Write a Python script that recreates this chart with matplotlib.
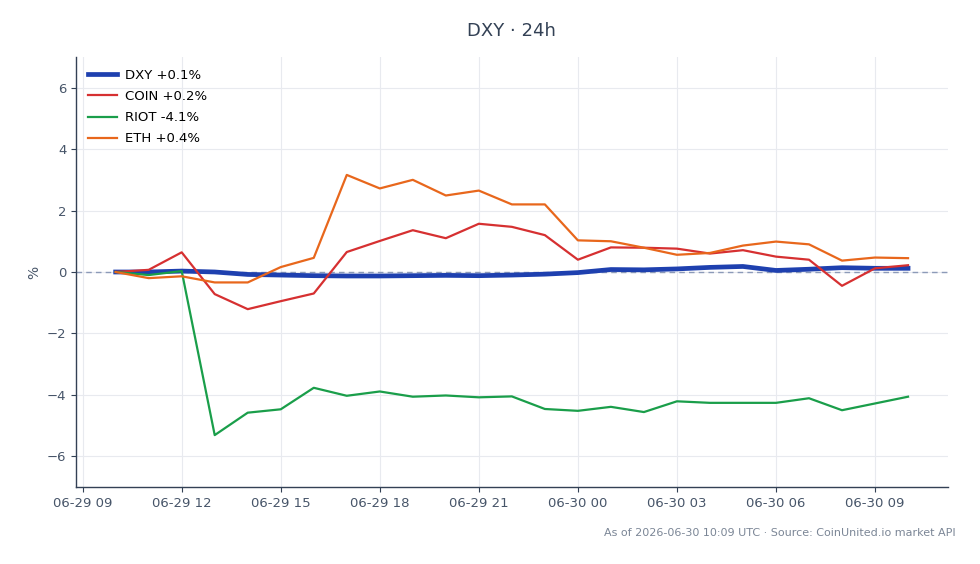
import matplotlib
matplotlib.use("Agg")
import matplotlib.pyplot as plt
import matplotlib.dates as mdates
import pandas as pd

times = pd.date_range("2026-06-29 10:00", periods=25, freq="h")

dxy = [0.0, 0.0, 0.03, 0.0, -0.08, -0.1, -0.12, -0.13, -0.13, -0.12, -0.11, -0.12,
       -0.1, -0.07, -0.02, 0.08, 0.07, 0.1, 0.15, 0.18, 0.05, 0.09, 0.14, 0.12, 0.12]
coin = [0.0, 0.07, 0.64, -0.72, -1.21, -0.95, -0.7, 0.65, 1.01, 1.36, 1.1, 1.57,
        1.47, 1.2, 0.4, 0.8, 0.79, 0.76, 0.6, 0.71, 0.5, 0.4, -0.45, 0.12, 0.22]
riot = [0.0, -0.1, 0.03, -5.31, -4.58, -4.47, -3.77, -4.03, -3.89, -4.06, -4.02, -4.08,
        -4.05, -4.46, -4.52, -4.39, -4.56, -4.21, -4.26, -4.26, -4.26, -4.11, -4.5, -4.28, -4.06]
eth = [0.0, -0.2, -0.14, -0.34, -0.34, 0.16, 0.46, 3.16, 2.72, 3.0, 2.49, 2.65,
       2.2, 2.2, 1.03, 1.0, 0.79, 0.56, 0.62, 0.86, 0.99, 0.9, 0.37, 0.47, 0.45]

series = [
    ("DXY +0.1%", dxy, "#1e40af", 3.4),
    ("COIN +0.2%", coin, "#d63031", 1.6),
    ("RIOT -4.1%", riot, "#1a9e4a", 1.6),
    ("ETH +0.4%", eth, "#e8671c", 1.6),
]

fig = plt.figure(figsize=(9.8, 5.64), dpi=100)
ax = fig.add_axes([0.0776, 0.1365, 0.8894, 0.7625])

ax.axhline(0, color="#8c9ab8", lw=1.0, ls=(0, (4, 3)), zorder=1)
for label, vals, color, lw in series:
    ax.plot(times, vals, color=color, lw=lw, label=label, zorder=3)

ax.set_ylim(-7, 7)
ax.set_yticks([-6, -4, -2, 0, 2, 4, 6])
ax.xaxis.set_major_locator(mdates.HourLocator(byhour=range(0, 24, 3)))
ax.xaxis.set_major_formatter(mdates.DateFormatter("%m-%d %H"))
ax.margins(x=0.05)

ax.grid(True, color="#e8eaef", lw=0.8)
ax.set_axisbelow(True)
for s in ["top", "right"]:
    ax.spines[s].set_visible(False)
for s in ["left", "bottom"]:
    ax.spines[s].set_color("#334155")
    ax.spines[s].set_linewidth(1.0)
ax.tick_params(colors="#334155", labelsize=9.5, labelcolor="#475569")
ax.set_ylabel("%", color="#475569", fontsize=10)

ax.legend(loc="upper left", frameon=False, fontsize=9.5, handlelength=2.2,
          handletextpad=0.6, borderaxespad=0.5, labelspacing=0.62)

fig.text(0.522, 0.945, "DXY · 24h", ha="center", va="center", fontsize=13, color="#334155")
fig.text(0.975, 0.055, "As of 2026-06-30 10:09 UTC · Source: CoinUnited.io market API",
         ha="right", va="center", fontsize=8, color="#7b8696")

fig.savefig("out.png", dpi=100)
